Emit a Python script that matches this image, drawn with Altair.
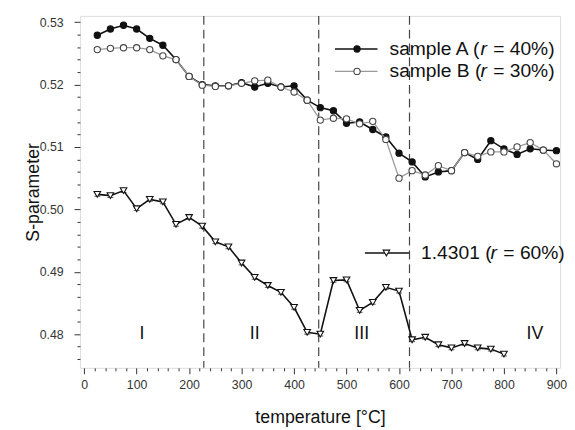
import altair as alt
import pandas as pd

temps_ab = [25, 50, 75, 100, 125, 150, 175, 200, 225, 250, 275, 300, 325, 350, 375, 400, 425, 450,
            475, 500, 525, 550, 575, 600, 625, 650, 675, 700, 725, 750, 775, 800, 825, 850, 875, 900]
sample_a = [0.5279, 0.5289, 0.5295, 0.5289, 0.5274, 0.5263, 0.5240, 0.5213, 0.5200, 0.5198, 0.5198, 0.5203,
            0.5196, 0.5202, 0.5196, 0.5198, 0.5175, 0.5163, 0.5158, 0.5138, 0.5140, 0.5128, 0.5116, 0.5090,
            0.5076, 0.5052, 0.5060, 0.5062, 0.5091, 0.5080, 0.5110, 0.5097, 0.5088, 0.5097, 0.5095, 0.5094]
sample_b = [0.5256, 0.5258, 0.5259, 0.5259, 0.5256, 0.5246, 0.5240, 0.5213, 0.5199, 0.5197, 0.5198, 0.5202,
            0.5206, 0.5207, 0.5196, 0.5188, 0.5175, 0.5143, 0.5146, 0.5145, 0.5137, 0.5141, 0.5112, 0.5050,
            0.5062, 0.5055, 0.5070, 0.5062, 0.5091, 0.5085, 0.5092, 0.5092, 0.5100, 0.5107, 0.5095, 0.5073]
temps_c = [25, 50, 75, 100, 125, 150, 175, 200, 225, 250, 275, 300, 325, 350, 375, 400, 425, 450,
           475, 500, 525, 550, 575, 600, 625, 650, 675, 700, 725, 750, 775, 800]
steel = [0.5024, 0.5022, 0.5030, 0.5001, 0.5016, 0.5012, 0.4976, 0.4987, 0.4973, 0.4948, 0.4940, 0.4914,
         0.4891, 0.4878, 0.4867, 0.4843, 0.4803, 0.4800, 0.4886, 0.4887, 0.4838, 0.4851, 0.4875, 0.4869,
         0.4791, 0.4795, 0.4783, 0.4778, 0.4785, 0.4778, 0.4776, 0.4768]
err = 0.0003

boundaries = [228, 447, 620]
region_x = [110, 325, 529, 859]
region_y = [0.4800, 0.4800, 0.4800, 0.4800]
region_txt = ["I", "II", "III", "IV"]

leg_series = ["A", "B", "C"]
leg_x1 = [478, 478, 535]
leg_x2 = [559, 559, 619]
leg_mx = [520, 520, 576]
leg_tx = [582, 582, 642]
leg_y = [0.5257, 0.5221, 0.4930]
leg_pre = ["sample A (", "sample B (", "1.4301 ("]
leg_suf = ["= 40%)", "= 30%)", "= 60%)"]

FONT = "Liberation Sans"
FS = 19.5
PX = 915 / 487  # data units per pixel (x)
EM = {"s": .5, "a": .556, "m": .833, "p": .556, "l": .222, "e": .556, " ": .278, "A": .667, "B": .667,
      "(": .333, "1": .556, ".": .278, "4": .556, "3": .556, "0": .556}


def width_px(t):
    return sum(EM.get(c, .556) for c in t) * FS


dfa = pd.DataFrame({"t": temps_ab, "s": sample_a})
dfb = pd.DataFrame({"t": temps_ab, "s": sample_b})
dfc = pd.DataFrame({"t": temps_c, "s": steel})

xs = alt.Scale(domain=[-8, 907], nice=False)
ys = alt.Scale(domain=[0.4746, 0.531], nice=False, zero=False)

x_major = list(range(0, 901, 100))
x_minor = [v for v in range(0, 901, 20) if v % 100 != 0]
y_major = [0.48, 0.49, 0.50, 0.51, 0.52, 0.53]
y_minor = [round(0.476 + 0.002 * i, 3) for i in range(28) if (i + 3) % 5 != 0]

common = dict(grid=False, domain=False, labelFontSize=12.5, labelFont=FONT, labelColor="#333",
              tickColor="#333", labelOverlap=False, labelFlush=False, titleFont=FONT, titleFontSize=18,
              titleFontWeight="normal", titleColor="#111")
x_axis = alt.Axis(orient="bottom", values=x_major, tickSize=6, title="temperature [°C]", titlePadding=18,
                  labelPadding=5, format="d", **common)
y_axis = alt.Axis(orient="left", values=y_major, tickSize=6, format=".2f", title="S-parameter", titlePadding=-3,
                  labelPadding=11, **common)
x_axis_minor = alt.Axis(orient="bottom", values=x_minor, tickSize=3, labels=False, title=None, grid=False,
                        domain=False, tickColor="#333")
y_axis_minor = alt.Axis(orient="left", values=y_minor, tickSize=3, labels=False, title=None, grid=False,
                        domain=False, tickColor="#333")

X = alt.X("t:Q", scale=xs, axis=x_axis)
Y = alt.Y("s:Q", scale=ys, axis=y_axis)


def series(df, line_color, line_w, shape, fill, stroke, size):
    base = alt.Chart(df)
    line = base.mark_line(color=line_color, strokeWidth=line_w).encode(x=X, y=Y)
    ebar = base.transform_calculate(lo=f"datum.s - {err}", hi=f"datum.s + {err}").mark_rule(
        color=stroke, strokeWidth=1).encode(x="t:Q", y="lo:Q", y2="hi:Q")
    cap_lo = base.transform_calculate(lo=f"datum.s - {err}").mark_tick(
        color=stroke, orient="horizontal", size=6, thickness=1).encode(x="t:Q", y="lo:Q")
    cap_hi = base.transform_calculate(hi=f"datum.s + {err}").mark_tick(
        color=stroke, orient="horizontal", size=6, thickness=1).encode(x="t:Q", y="hi:Q")
    pts = base.mark_point(shape=shape, filled=True, fill=fill, stroke=stroke, strokeWidth=1.1,
                          size=size, opacity=1).encode(x="t:Q", y="s:Q")
    return [line, ebar, cap_lo, cap_hi, pts]


bdf = pd.DataFrame({"t": boundaries})
minor = alt.Chart(bdf).mark_rule(opacity=0).encode(
    x=alt.X("t:Q", scale=xs, axis=x_axis_minor),
    y=alt.value(0))
minor_y = alt.Chart(pd.DataFrame({"s": [0.5]})).mark_rule(opacity=0).encode(
    y=alt.Y("s:Q", scale=ys, axis=y_axis_minor), x=alt.value(0))

main_layers = []
main_layers.append(alt.Chart(bdf).mark_rule(color="#444", strokeWidth=1.2, strokeDash=[9, 5]).encode(x=X))
main_layers += series(dfc, "#111", 1.6, "triangle-down", "white", "#111", 45)
main_layers += series(dfa, "#111", 1.6, "circle", "#111", "#111", 40)
main_layers += series(dfb, "#999", 1.3, "circle", "white", "#444", 40)

rdf = pd.DataFrame({"t": region_x, "s": region_y, "txt": region_txt})
main_layers.append(alt.Chart(rdf).mark_text(font=FONT, fontSize=18, color="#111", baseline="middle").encode(
    x="t:Q", y="s:Q", text="txt:N"))

styles = {"A": ("#111", "circle", "#111", "#111"), "B": ("#999", "circle", "white", "#444"),
          "C": ("#111", "triangle-down", "white", "#111")}
seg_rows, mk_rows, txt_rows = [], [], []
for i, sname in enumerate(leg_series):
    seg_rows.append({"k": sname, "t": leg_x1[i], "t2": leg_x2[i], "s": leg_y[i]})
    mk_rows.append({"k": sname, "t": leg_mx[i], "s": leg_y[i]})
    w1 = (width_px(leg_pre[i]) - 1) * PX
    w2 = ((0.333 + 0.278) * FS + 1) * PX
    txt_rows.append({"t": leg_tx[i], "s": leg_y[i], "txt": leg_pre[i], "it": "normal"})
    txt_rows.append({"t": leg_tx[i] + w1, "s": leg_y[i], "txt": "r", "it": "italic"})
    txt_rows.append({"t": leg_tx[i] + w1 + w2, "s": leg_y[i], "txt": leg_suf[i], "it": "normal"})
seg_df = pd.DataFrame(seg_rows)
mk_df = pd.DataFrame(mk_rows)
txt_df = pd.DataFrame(txt_rows)
for sname in leg_series:
    lc, shp, fill, stroke = styles[sname]
    lw = 1.3 if sname == "B" else 1.6
    main_layers.append(alt.Chart(seg_df).transform_filter(f"datum.k == '{sname}'").mark_rule(
        color=lc, strokeWidth=lw).encode(x="t:Q", x2="t2:Q", y="s:Q"))
    main_layers.append(alt.Chart(mk_df).transform_filter(f"datum.k == '{sname}'").mark_point(
        shape=shp, filled=True, fill=fill, stroke=stroke, strokeWidth=1.1, size=45 if sname == "C" else 40,
        opacity=1).encode(x="t:Q", y="s:Q"))
for sty in ["normal", "italic"]:
    main_layers.append(alt.Chart(txt_df).transform_filter(f"datum.it == '{sty}'").mark_text(
        font=FONT, fontSize=FS, fontStyle=sty, color="#111", align="left", baseline="middle").encode(
        x="t:Q", y="s:Q", text="txt:N"))

main = alt.layer(*main_layers)
chart = alt.layer(minor, minor_y, main).resolve_axis(x="independent", y="independent").properties(
    width=487, height=357,
    autosize=alt.AutoSizeParams(type="none"),
    padding={"left": 73, "top": 5, "right": 7, "bottom": 58},
).configure_view(stroke="#333", strokeWidth=1).configure(background="white")

chart.save("out.html", embed_options={"renderer": "svg", "actions": False})
